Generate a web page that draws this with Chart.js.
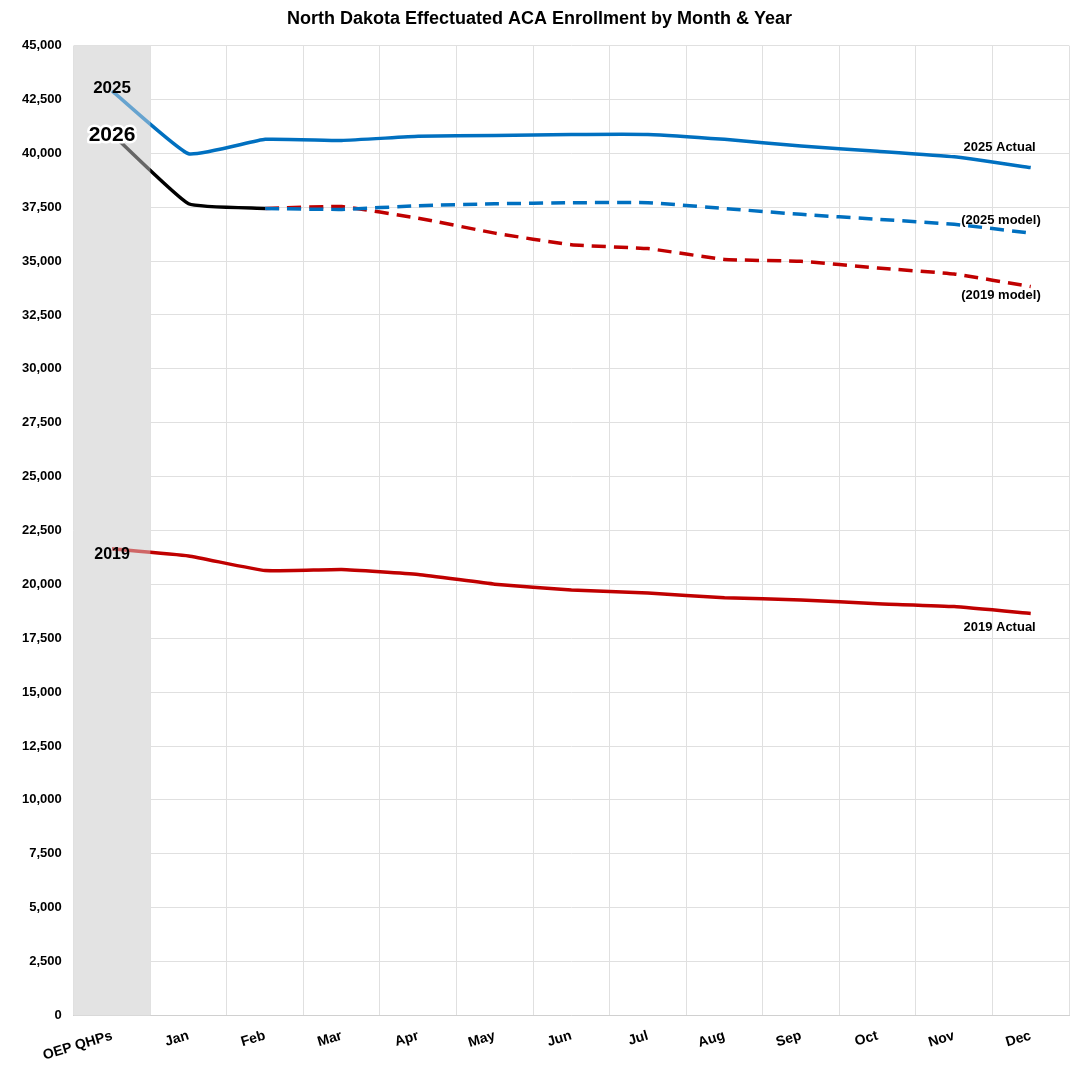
<!DOCTYPE html>
<html>
<head>
<meta charset="utf-8">
<script src="https://cdn.jsdelivr.net/npm/chart.js@4"></script>
<style>
  html, body { margin: 0; padding: 0; background: #fff; }
  #wrap { width: 1081px; height: 1080px; position: relative; }
</style>
</head>
<body>
<div id="wrap"><canvas id="enrollChart"></canvas></div>
<script>
const months = ['OEP QHPs', 'Jan', 'Feb', 'Mar', 'Apr', 'May', 'Jun', 'Jul', 'Aug', 'Sep', 'Oct', 'Nov', 'Dec'];

const series = {
    actual2025: [42900, 39980, 40650, 40600, 40790, 40830, 40880, 40880, 40650, 40340, 40100, 39840, 39340],
    actual2026: [40900, 37660, 37440, null, null, null, null, null, null, null, null, null, null],
    model2025: [null, null, 37440, 37400, 37570, 37660, 37710, 37710, 37440, 37170, 36940, 36710, 36300],
    model2019: [null, null, 37440, 37530, 36990, 36300, 35760, 35580, 35080, 34990, 34680, 34400, 33820],
    actual2019: [21650, 21320, 20640, 20690, 20460, 20010, 19740, 19600, 19380, 19280, 19100, 18970, 18650]
};

const font = 'Arial, "Liberation Sans", sans-serif';

// gray OEP band drawn over the lines, then text labels on top
const overlayPlugin = {
    id: 'overlay',
    beforeDatasetsDraw(chart) {
        const { ctx, chartArea, scales: { x } } = chart;
        const right = (x.getPixelForValue(0) + x.getPixelForValue(1)) / 2;
        ctx.save();
        ctx.fillStyle = '#e3e3e3';
        ctx.fillRect(chartArea.left, chartArea.top, right - chartArea.left, chartArea.bottom - chartArea.top);
        ctx.restore();
    },
    afterDatasetsDraw(chart) {
        const { ctx, chartArea, scales: { x, y } } = chart;
        const right = (x.getPixelForValue(0) + x.getPixelForValue(1)) / 2;
        ctx.save();
        ctx.fillStyle = 'rgba(227,227,227,0.45)';
        ctx.fillRect(chartArea.left, chartArea.top, right - chartArea.left, chartArea.bottom - chartArea.top);

        const label = (text, px, py, size, align, outline) => {
            ctx.font = 'bold ' + size + 'px ' + font;
            ctx.textAlign = align;
            ctx.textBaseline = 'middle';
            if (outline) {
                ctx.lineWidth = 5;
                ctx.strokeStyle = '#fff';
                ctx.lineJoin = 'round';
                ctx.strokeText(text, px, py);
            }
            ctx.fillStyle = '#000';
            ctx.fillText(text, px, py);
        };
        const x0 = x.getPixelForValue(0);
        label('2025', x0, 88, 17, 'center', false);
        label('2026', x0, 135, 21, 'center', true);
        label('2019', x0, 555, 16, 'center', false);
        ctx.restore();

        const xd = x.getPixelForValue(12);
        ctx.save();
        ctx.font = 'bold 13px ' + font;
        ctx.textAlign = 'right';
        ctx.textBaseline = 'middle';
        ctx.fillStyle = '#000';
        ctx.fillText('2025 Actual', xd + 5, y.getPixelForValue(series.actual2025[12]) - 20);
        ctx.fillText('(2025 model)', xd + 10, y.getPixelForValue(series.model2025[12]) - 13);
        ctx.fillText('(2019 model)', xd + 10, y.getPixelForValue(series.model2019[12]) + 9);
        ctx.fillText('2019 Actual', xd + 5, y.getPixelForValue(series.actual2019[12]) + 14);
        ctx.restore();
    }
};

const ctx = document.getElementById('enrollChart').getContext('2d');
new Chart(ctx, {
    type: 'line',
    data: {
        labels: months,
        datasets: [
            { data: series.model2025, borderColor: '#0070c0', borderDash: [14, 8], borderWidth: 3.5 },
            { data: series.model2019, borderColor: '#c00000', borderDash: [14, 8], borderWidth: 3.5 },
            { data: series.actual2025, borderColor: '#0070c0', borderWidth: 3.5 },
            { data: series.actual2019, borderColor: '#c00000', borderWidth: 3.5 },
            { data: series.actual2026, borderColor: '#000000', borderWidth: 3.5 }
        ]
    },
    options: {
        responsive: true,
        maintainAspectRatio: false,
        animation: false,
        elements: { point: { radius: 0 }, line: { tension: 0.12, fill: false } },
        layout: { padding: { right: 12, left: 10, bottom: 4 } },
        plugins: {
            legend: { display: false },
            tooltip: { enabled: false },
            title: {
                display: true,
                text: 'North Dakota Effectuated ACA Enrollment by Month & Year',
                color: '#000',
                font: { family: font, size: 18, weight: 'bold' },
                padding: { top: 8, bottom: 16 }
            }
        },
        scales: {
            x: {
                offset: true,
                grid: { color: '#e0e0e0', offset: true, drawTicks: false },
                border: { color: '#d0d0d0' },
                ticks: { color: '#000', padding: 12, font: { family: font, size: 14, weight: 'bold' } }
            },
            y: {
                min: 0,
                max: 45000,
                grid: { color: '#e0e0e0', drawTicks: false },
                border: { display: false },
                ticks: {
                    stepSize: 2500,
                    color: '#000',
                    padding: 12,
                    font: { family: font, size: 13, weight: 'bold' },
                    callback: v => v.toLocaleString('en-US')
                }
            }
        }
    },
    plugins: [overlayPlugin]
});
</script>
</body>
</html>
